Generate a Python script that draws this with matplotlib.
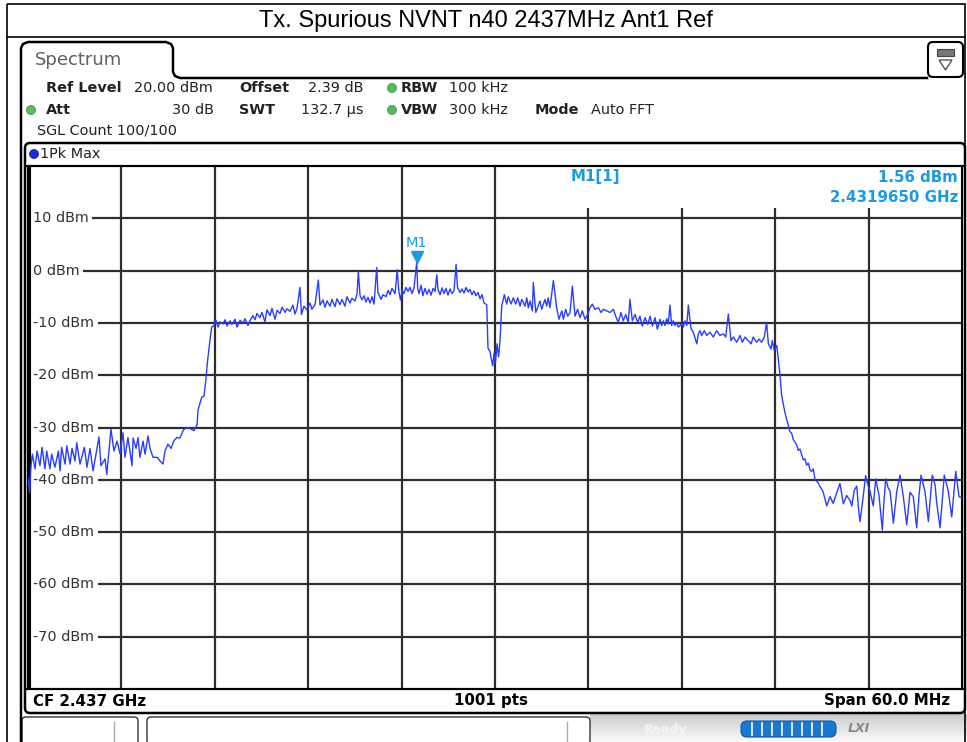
import numpy as np
import matplotlib.pyplot as plt
from matplotlib.patches import FancyBboxPatch, Rectangle, Circle, Polygon
from matplotlib.transforms import blended_transform_factory

# trace (frequency in MHz, level in dBm)
freq_mhz = [
    2407.00, 2407.10, 2407.19, 2407.28, 2407.45, 2407.58, 2407.77, 2407.90, 2408.09, 2408.20,
    2408.41, 2408.52, 2408.73, 2408.95, 2409.06, 2409.16, 2409.38, 2409.49, 2409.70, 2409.83,
    2410.02, 2410.13, 2410.34, 2410.62, 2410.79, 2410.98, 2411.18, 2411.56, 2411.69, 2411.95,
    2412.06, 2412.33, 2412.52, 2412.72, 2412.91, 2413.10, 2413.23, 2413.42, 2413.68, 2413.75,
    2413.94, 2414.07, 2414.19, 2414.39, 2414.52, 2414.71, 2414.84, 2415.03, 2415.29, 2415.48,
    2415.67, 2415.80, 2415.99, 2416.19, 2416.38, 2416.57, 2416.76, 2416.96, 2417.15, 2417.41,
    2417.66, 2417.86, 2417.92, 2418.16, 2418.31, 2418.42, 2418.54, 2418.69, 2418.80, 2418.95,
    2419.08, 2419.21, 2419.33, 2419.53, 2419.66, 2419.78, 2419.98, 2420.10, 2420.30, 2420.43,
    2420.62, 2420.81, 2420.94, 2421.13, 2421.26, 2421.45, 2421.58, 2421.71, 2421.90, 2422.03,
    2422.22, 2422.35, 2422.55, 2422.67, 2422.87, 2423.00, 2423.19, 2423.32, 2423.51, 2423.64,
    2423.83, 2424.02, 2424.15, 2424.28, 2424.47, 2424.57, 2424.73, 2424.92, 2425.12, 2425.24,
    2425.44, 2425.65, 2425.76, 2425.95, 2426.08, 2426.21, 2426.40, 2426.53, 2426.72, 2426.85,
    2427.04, 2427.17, 2427.36, 2427.49, 2427.69, 2427.81, 2428.01, 2428.14, 2428.22, 2428.33,
    2428.46, 2428.59, 2428.71, 2428.84, 2428.97, 2429.10, 2429.23, 2429.40, 2429.48, 2429.68,
    2429.81, 2430.00, 2430.13, 2430.26, 2430.38, 2430.58, 2430.72, 2430.83, 2430.93, 2431.03,
    2431.15, 2431.28, 2431.41, 2431.54, 2431.67, 2431.80, 2431.97, 2432.03, 2432.12, 2432.25,
    2432.37, 2432.50, 2432.63, 2432.76, 2432.89, 2433.02, 2433.15, 2433.26, 2433.34, 2433.47,
    2433.60, 2433.72, 2433.85, 2433.98, 2434.11, 2434.24, 2434.37, 2434.50, 2434.59, 2434.75,
    2434.88, 2435.01, 2435.14, 2435.27, 2435.39, 2435.52, 2435.65, 2435.78, 2435.91, 2436.04,
    2436.17, 2436.29, 2436.47, 2436.55, 2436.68, 2436.78, 2436.85, 2436.94, 2437.03, 2437.13,
    2437.23, 2437.32, 2437.43, 2437.60, 2437.75, 2437.85, 2438.03, 2438.18, 2438.33, 2438.46,
    2438.61, 2438.72, 2438.93, 2439.04, 2439.14, 2439.25, 2439.40, 2439.46, 2439.62, 2439.89,
    2440.00, 2440.21, 2440.32, 2440.42, 2440.53, 2440.75, 2440.96, 2441.11, 2441.29, 2441.39,
    2441.54, 2441.67, 2441.82, 2441.97, 2442.14, 2442.31, 2442.46, 2442.61, 2442.78, 2442.96,
    2443.10, 2443.25, 2443.42, 2443.64, 2443.81, 2443.96, 2444.18, 2444.39, 2444.60, 2444.75,
    2444.92, 2445.09, 2445.24, 2445.40, 2445.56, 2445.67, 2445.82, 2445.99, 2446.17, 2446.31,
    2446.46, 2446.64, 2446.81, 2446.96, 2447.11, 2447.28, 2447.43, 2447.60, 2447.71, 2447.81,
    2447.92, 2448.03, 2448.13, 2448.24, 2448.35, 2448.45, 2448.56, 2448.67, 2448.78, 2448.99,
    2449.10, 2449.21, 2449.32, 2449.42, 2449.59, 2449.74, 2449.96, 2450.06, 2450.17, 2450.28,
    2450.45, 2450.60, 2450.81, 2451.02, 2451.24, 2451.45, 2451.67, 2451.82, 2451.99, 2452.16,
    2452.31, 2452.53, 2452.74, 2452.89, 2453.06, 2453.27, 2453.45, 2453.59, 2453.81, 2453.96,
    2454.13, 2454.30, 2454.45, 2454.56, 2454.73, 2454.81, 2454.94, 2455.10, 2455.20, 2455.31,
    2455.42, 2455.52, 2455.63, 2455.74, 2455.84, 2455.95, 2456.06, 2456.16, 2456.27, 2456.38,
    2456.48, 2456.59, 2456.70, 2456.81, 2456.91, 2457.02, 2457.13, 2457.24, 2457.35, 2457.45,
    2457.56, 2457.77, 2457.88, 2458.07, 2458.31, 2458.52, 2458.73, 2458.95, 2459.16, 2459.38,
    2459.59, 2459.81, 2459.92, 2460.08, 2460.24, 2460.35, 2460.45, 2460.66, 2460.81, 2460.96,
    2461.09, 2461.30, 2461.46, 2461.67, 2461.80, 2461.88, 2461.99, 2462.10, 2462.25, 2462.38,
    2462.59, 2462.81, 2463.02, 2463.23, 2463.45, 2463.66, 2463.87, 2464.09, 2464.24, 2464.37,
    2464.62, 2464.84, 2465.09, 2465.27, 2465.38, 2465.59, 2465.86, 2466.12, 2466.34, 2466.60,
    2466.81, 2467.00,
]
level_dbm = [
    -39.5, -42.5, -37.5, -35.1, -37.9, -34.5, -37.3, -33.8, -37.9, -34.5,
    -37.9, -35.1, -37.6, -34.5, -38.3, -33.8, -37.0, -33.5, -37.0, -34.0,
    -36.4, -32.9, -37.0, -33.8, -37.6, -34.0, -38.3, -31.8, -37.3, -36.0,
    -39.0, -30.3, -34.5, -32.6, -35.0, -31.0, -35.7, -31.9, -37.3, -32.0,
    -34.0, -31.9, -35.7, -32.6, -35.1, -31.6, -34.0, -35.7, -35.7, -36.4,
    -37.0, -34.5, -33.2, -34.0, -32.5, -31.9, -32.0, -30.6, -30.0, -30.2,
    -30.6, -29.5, -26.7, -24.2, -24.0, -21.0, -17.1, -13.3, -10.8, -10.5,
    -9.5, -10.8, -9.8, -10.2, -9.4, -10.6, -9.6, -10.3, -9.3, -10.8,
    -9.5, -10.0, -9.2, -10.5, -9.6, -8.6, -9.4, -8.2, -9.0, -8.0,
    -9.8, -7.5, -8.6, -7.2, -9.3, -7.6, -8.2, -7.0, -8.0, -7.3,
    -7.8, -6.6, -8.3, -7.2, -3.2, -8.4, -6.8, -7.5, -6.2, -7.4,
    -6.5, -1.8, -6.6, -5.6, -7.0, -5.8, -6.8, -5.5, -6.9, -5.4,
    -6.5, -5.5, -6.8, -5.0, -6.2, -5.3, -5.8, -4.4, -0.1, -4.8,
    -5.6, -4.8, -6.0, -5.1, -6.2, -5.0, -6.4, 0.6, -4.2, -5.5,
    -4.6, -5.0, -3.8, -4.6, -3.4, -4.4, 0.2, -4.2, -5.6, -3.8,
    -4.4, -3.2, -4.0, -3.2, -4.4, -3.3, 1.56, -3.3, -4.4, -2.8,
    -4.8, -3.4, -4.5, -3.6, -4.7, -3.4, -4.0, -0.8, -3.6, -4.6,
    -3.3, -4.4, -3.4, -4.7, -3.5, -4.4, -3.8, 1.2, -3.2, -4.2,
    -3.5, -4.3, -3.2, -4.1, -3.6, -4.6, -3.9, -4.8, -4.2, -5.4,
    -4.6, -6.2, -6.5, -14.8, -15.5, -17.2, -18.2, -15.8, -17.6, -14.0,
    -16.5, -13.5, -6.8, -4.6, -6.4, -5.0, -6.4, -5.2, -6.4, -5.2,
    -6.8, -5.5, -6.8, -5.2, -7.1, -5.8, -7.7, -2.3, -8.0, -5.8,
    -7.4, -5.5, -6.8, -5.2, -7.1, -1.9, -7.1, -9.3, -7.7, -9.3,
    -7.4, -8.7, -8.0, -3.0, -8.7, -7.4, -9.0, -7.7, -9.3, -8.4,
    -7.1, -6.4, -7.4, -7.1, -8.0, -7.4, -7.7, -8.0, -7.4, -8.7,
    -9.9, -8.0, -9.6, -8.4, -9.9, -5.5, -9.6, -8.4, -9.9, -8.7,
    -10.6, -9.0, -10.3, -8.7, -10.6, -9.0, -11.2, -9.3, -10.5, -9.6,
    -10.5, -9.2, -10.2, -6.6, -10.5, -9.6, -10.5, -9.9, -10.8, -10.2,
    -10.8, -9.6, -10.5, -6.6, -11.1, -11.8, -14.0, -12.1, -11.5, -12.4,
    -11.5, -12.4, -11.8, -12.7, -11.5, -12.4, -12.1, -12.7, -8.3, -13.4,
    -12.7, -13.7, -12.4, -13.7, -12.7, -13.4, -14.0, -12.7, -13.7, -13.1,
    -13.7, -12.7, -9.9, -14.0, -15.0, -13.4, -15.3, -14.3, -16.9, -20.2,
    -24.0, -25.5, -27.2, -28.5, -29.5, -30.8, -31.1, -32.3, -32.8, -33.3,
    -34.4, -34.1, -35.2, -36.2, -36.0, -37.2, -36.8, -38.2, -38.4, -37.9,
    -40.0, -40.6, -41.3, -42.2, -45.0, -43.2, -44.5, -42.5, -40.7, -44.6,
    -43.0, -44.0, -45.0, -42.0, -41.2, -45.5, -48.0, -43.0, -39.2, -41.0,
    -42.2, -45.0, -39.8, -43.0, -47.0, -49.6, -44.0, -39.8, -41.5, -42.2,
    -48.3, -42.2, -39.1, -43.2, -48.6, -42.4, -43.2, -49.2, -43.0, -39.1,
    -42.2, -48.0, -39.1, -41.0, -44.5, -49.2, -39.1, -42.2, -47.1, -38.4,
    -43.2, -43.5,
]

y_ticks = [10, 0, -10, -20, -30, -40, -50, -60, -70]
y_labels = ['10 dBm', '0 dBm', '-10 dBm', '-20 dBm', '-30 dBm', '-40 dBm',
            '-50 dBm', '-60 dBm', '-70 dBm']
x_grid = [2413, 2419, 2425, 2431, 2437, 2443, 2449, 2455, 2461]
marker_freq = 2431.965
marker_level = 1.56

W, H = 967, 742
MK = '#1b9ae0'
plt.rcParams['font.family'] = 'DejaVu Sans'

fig = plt.figure(figsize=(W / 100, H / 100), dpi=100)
bg = fig.add_axes([0, 0, 1, 1])
bg.axis('off')

# outer frame + title
bg.add_patch(Rectangle((7, 4), 958, 740, fill=False, lw=1.2, ec='black'))
bg.plot([7, 965], [37, 37], color='black', lw=1.2)
bg.text(486, 21, 'Tx. Spurious NVNT n40 2437MHz Ant1 Ref', ha='center', va='center',
        fontsize=17, family='Liberation Sans')

# spectrum tab outline
tab_x = [21, 21, 23, 28, 166, 171, 173, 173, 175, 180, 927]
tab_y = [742, 48, 44, 42, 42, 44, 48, 72, 76, 78, 78]
bg.plot(tab_x, tab_y, color='black', lw=1.8)
bg.text(35, 60, 'Spectrum', fontsize=13, color='#606060', va='center')

# icon top right
bg.add_patch(FancyBboxPatch((928, 42), 35, 35, boxstyle='round,pad=0,rounding_size=5',
                            fc='white', ec='black', lw=1.5))
bg.add_patch(Rectangle((937, 49), 17, 7, fc='#777777', ec='#444444', lw=0.8))
bg.add_patch(Polygon([[939, 60], [952, 60], [945.5, 70]], closed=True, fill=False,
                     ec='#555555', lw=1.0))

# settings header
def hdr(x, y, s, bold=False, ha='left', size=10.4):
    bg.text(x, y, s, fontsize=size, va='center', ha=ha,
            fontweight='bold' if bold else 'normal', color='#222222')

def dot(x, y):
    bg.add_patch(Circle((x, y), 4.5, fc='#5cb85c', ec='#3a8a3a', lw=0.5))

hdr(46, 88, 'Ref Level', True)
hdr(134, 88, '20.00 dBm')
hdr(239, 88, 'Offset', True)
hdr(308, 88, '2.39 dB')
dot(392, 88)
hdr(401, 88, 'RBW', True)
hdr(449, 88, '100 kHz')
dot(31, 110)
hdr(46, 110, 'Att', True)
hdr(214, 110, '30 dB', ha='right')
hdr(239, 110, 'SWT', True)
hdr(301, 110, '132.7 µs')
dot(392, 110)
hdr(401, 110, 'VBW', True)
hdr(449, 110, '300 kHz')
hdr(535, 110, 'Mode', True)
hdr(591, 110, 'Auto FFT')
hdr(37, 131, 'SGL Count 100/100')

# trace window frame
bg.add_patch(FancyBboxPatch((25, 143), 940, 570, boxstyle='round,pad=0,rounding_size=5',
                            fc='white', ec='black', lw=1.8))
bg.add_patch(Circle((34, 154), 4.5, fc='#1530d0', ec='#0a1a80', lw=0.5))
hdr(40, 154, '1Pk Max')
bg.plot([25, 965], [166, 166], color='black', lw=1.5)
bg.plot([25, 965], [689, 689], color='black', lw=1.5)

bg.text(33, 701, 'CF 2.437 GHz', fontsize=10.8, fontweight='bold', va='center')
bg.text(491, 701, '1001 pts', fontsize=10.8, fontweight='bold', va='center', ha='center')
bg.text(950, 701, 'Span 60.0 MHz', fontsize=10.8, fontweight='bold', va='center', ha='right')

# status bar
grad = np.linspace(0.80, 0.98, 30).reshape(-1, 1)
bg.imshow(grad, cmap='gray', vmin=0, vmax=1, extent=[590, 967, 742, 714], aspect='auto',
          zorder=0)
bg.add_patch(FancyBboxPatch((22, 717), 116, 28, boxstyle='round,pad=0,rounding_size=4',
                            fc='white', ec='#333333', lw=1.0))
bg.plot([114, 114], [722, 742], color='#aaaaaa', lw=1.0)
bg.add_patch(FancyBboxPatch((147, 717), 443, 28, boxstyle='round,pad=0,rounding_size=4',
                            fc='white', ec='#333333', lw=1.0))
bg.plot([567, 567], [722, 742], color='#aaaaaa', lw=1.0)
bg.text(666, 729, 'Ready', fontsize=9, fontweight='bold', color='#f4f4f4', va='center',
        ha='center')
bg.add_patch(FancyBboxPatch((741, 721), 95, 16, boxstyle='round,pad=0,rounding_size=6',
                            fc='#1a78d0', ec='#0d5aa8', lw=0.8))
for sx in range(752, 832, 10):
    bg.plot([sx, sx], [723, 735], color='white', lw=1.2)
bg.text(859, 729, 'LXI', fontsize=9, fontweight='bold', style='italic', color='#888888',
        va='center', ha='center')

# marker readout
mk_kw = dict(fontsize=10.8, fontweight='bold', color=MK, va='center')
bg.text(595, 177, 'M1[1]', ha='center', **mk_kw)
bg.text(958, 177, '1.56 dBm', ha='right', **mk_kw)
bg.text(958, 198, '2.4319650 GHz', ha='right', **mk_kw)

bg.set_xlim(0, W)
bg.set_ylim(H, 0)

# spectrum plot area
ax = fig.add_axes([28 / W, (H - 689) / H, 934 / W, 523 / H])
ax.set_facecolor('none')
ax.set_xlim(2407, 2467)
ax.set_ylim(-80, 20)
ax.set_xticks([])
ax.set_yticks([])
for sp in ax.spines.values():
    sp.set_linewidth(1.5)

grid_c = '#2e2e2e'
for xv in x_grid:
    top = 20 if xv <= 2437 else 12
    ax.vlines(xv, -80, top, color=grid_c, lw=1.6, zorder=1)
ax.hlines(y_ticks, 2407, 2467, color=grid_c, lw=1.6, zorder=1)

tr = blended_transform_factory(ax.transAxes, ax.transData)
for yv, lab in zip(y_ticks, y_labels):
    ax.text(5 / 934, yv, lab, transform=tr, fontsize=10.4, color='#333333', va='center',
            ha='left', zorder=2,
            bbox=dict(boxstyle='square,pad=0.25', fc='white', ec='none'))
ax.vlines(2407.15, -80, 20, color='black', lw=1.5, zorder=2)

ax.plot(freq_mhz, level_dbm, color='#2a3cff', lw=1.0, zorder=3)

# marker M1
ax.plot(marker_freq, marker_level + 1.1, marker='v', markersize=8, color=MK,
        markeredgecolor=MK, zorder=4)
ax.text(marker_freq, marker_level + 3.8, 'M1', fontsize=10.4, color=MK, ha='center',
        va='center', zorder=4)

fig.savefig('out.png', dpi=100, facecolor='white')
